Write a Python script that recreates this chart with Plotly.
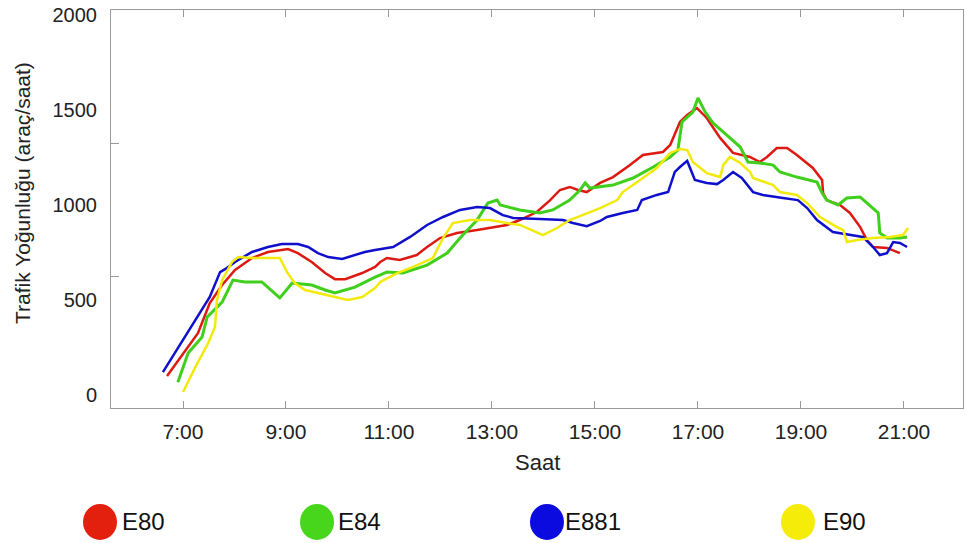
import plotly.graph_objects as go

# Veri (saat, araç/saat)
######################################################################
e80_saat = [6.69, 7.29, 7.52, 7.76, 8.01, 8.34, 8.65, 9.04, 9.23, 9.50, 9.76, 9.95, 10.15, 10.48, 10.73,
            10.83, 10.96, 11.21, 11.54, 11.74, 11.99, 12.32, 12.71, 13.02, 13.29, 13.54, 13.87, 14.13,
            14.32, 14.51, 14.67, 14.84, 15.10, 15.35, 15.68, 15.93, 16.32, 16.46, 16.65, 16.79, 16.98,
            17.17, 17.43, 17.68, 18.01, 18.20, 18.34, 18.53, 18.73, 18.92, 19.23, 19.41, 19.43, 19.50,
            19.76, 19.95, 20.15, 20.28, 20.40, 20.67, 20.92]
e80_deger = [100, 326, 484, 579, 658, 721, 753, 768, 747, 700, 642, 610, 610, 642, 674,
             700, 721, 711, 737, 779, 826, 853, 868, 884, 895, 921, 963, 1026,
             1079, 1095, 1079, 1068, 1116, 1147, 1210, 1263, 1279, 1316, 1437, 1474, 1510,
             1458, 1353, 1274, 1253, 1226, 1253, 1300, 1300, 1263, 1195, 1132, 1063, 1026,
             1000, 958, 884, 816, 779, 774, 747]

e84_saat = [6.90, 7.10, 7.37, 7.47, 7.76, 7.97, 8.20, 8.53, 8.88, 9.12, 9.31, 9.50, 9.76, 9.95, 10.34,
            10.73, 10.96, 11.27, 11.74, 12.13, 12.38, 12.71, 12.92, 13.10, 13.16, 13.54, 13.93, 14.18,
            14.51, 14.71, 14.81, 14.90, 15.35, 15.74, 16.13, 16.46, 16.61, 16.69, 16.90, 17.00, 17.14,
            17.29, 17.56, 17.82, 17.97, 18.20, 18.46, 18.59, 18.92, 19.31, 19.41, 19.50, 19.72, 19.89,
            20.15, 20.40, 20.50, 20.53, 20.67, 20.92, 21.06]
e84_deger = [68, 221, 305, 411, 489, 605, 595, 595, 511, 589, 584, 579, 553, 537, 568,
             621, 647, 642, 684, 747, 826, 921, 1010, 1026, 1000, 974, 958, 974,
             1026, 1079, 1116, 1089, 1105, 1142, 1200, 1253, 1289, 1437, 1489, 1563, 1489,
             1432, 1368, 1305, 1226, 1221, 1210, 1174, 1147, 1121, 1063, 1026, 1000, 1037,
             1042, 984, 958, 853, 826, 826, 832]

e881_saat = [6.61, 7.52, 7.72, 7.85, 8.01, 8.34, 8.65, 8.92, 9.23, 9.43, 9.62, 9.82, 10.09, 10.34, 10.53,
             10.73, 11.08, 11.41, 11.74, 12.05, 12.38, 12.71, 12.96, 13.21, 13.41, 13.93, 14.38, 14.57,
             14.84, 15.10, 15.23, 15.54, 15.82, 15.91, 16.20, 16.42, 16.55, 16.65, 16.79, 16.94, 17.17,
             17.37, 17.49, 17.68, 17.85, 18.07, 18.26, 18.65, 18.94, 19.12, 19.31, 19.62, 19.95, 20.20,
             20.40, 20.53, 20.67, 20.79, 20.92, 21.06]
e881_deger = [121, 516, 647, 668, 700, 753, 779, 795, 795, 779, 747, 726, 716, 737, 753,
              763, 779, 832, 895, 937, 974, 989, 984, 947, 932, 926, 921, 905,
              889, 916, 937, 958, 974, 1026, 1053, 1068, 1174, 1200, 1232, 1132, 1116,
              1110, 1132, 1174, 1142, 1068, 1053, 1037, 1026, 984, 921, 858, 842, 832,
              779, 737, 747, 805, 800, 779]

e90_saat = [7.00, 7.23, 7.49, 7.62, 7.66, 7.76, 7.95, 8.07, 8.34, 8.65, 8.88, 9.02, 9.17, 9.37, 9.82,
            10.20, 10.48, 10.73, 10.83, 11.16, 11.47, 11.85, 12.05, 12.24, 12.57, 12.96, 13.29, 13.54,
            13.99, 14.26, 14.51, 14.84, 15.10, 15.43, 15.54, 15.82, 16.20, 16.46, 16.65, 16.79, 16.90,
            17.17, 17.43, 17.49, 17.62, 17.82, 18.01, 18.07, 18.46, 18.59, 18.92, 19.12, 19.37, 19.70,
            19.82, 19.89, 20.09, 20.40, 20.73, 20.98, 21.08]
e90_deger = [16, 142, 274, 358, 500, 605, 700, 726, 721, 721, 721, 647, 589, 553, 526,
             500, 516, 563, 595, 642, 674, 721, 826, 905, 921, 921, 905, 895,
             842, 879, 921, 958, 984, 1026, 1068, 1121, 1195, 1274, 1295, 1289, 1226,
             1168, 1147, 1210, 1253, 1221, 1174, 1142, 1105, 1068, 1053, 1010, 937, 884,
             868, 805, 816, 826, 832, 842, 879]

seriler = ["E80", "E84", "E881", "E90"]
renkler = ["#dd1a12", "#40cf1c", "#1010cc", "#f2ea0c"]
legend_renk = ["#e3200e", "#47d61c", "#0b0be0", "#f5ec0a"]
kalinlik = [2.5, 3, 2.5, 2.5]

saat_tick = [7, 9, 11, 13, 15, 17, 19, 21]
saat_etiket = ["7:00", "9:00", "11:00", "13:00", "15:00", "17:00", "19:00", "21:00"]
y_tick = [0, 500, 1000, 1500, 2000]

veriler = [(e80_saat, e80_deger), (e84_saat, e84_deger), (e881_saat, e881_deger), (e90_saat, e90_deger)]

fig = go.Figure()
for ad, (xs, ys), renk, w in zip(seriler, veriler, renkler, kalinlik):
    fig.add_trace(go.Scatter(x=xs, y=ys, name=ad, mode='lines', showlegend=False,
                             line=dict(color=renk, width=w)))

eksen_renk = '#9a9a9a'
fig.update_xaxes(range=[5.602, 22.146], tickvals=saat_tick, ticktext=saat_etiket, automargin=False,
                 ticks='inside', ticklen=7, tickcolor=eksen_renk, showgrid=False, zeroline=False,
                 showline=True, linecolor=eksen_renk, linewidth=1, mirror='ticks',
                 tickfont=dict(size=21, color='#222'), ticklabelstandoff=5, ticklabeloverflow='allow')
fig.update_yaxes(range=[-68, 2026], tickvals=y_tick, ticks='', showgrid=False, zeroline=False,
                 showline=True, linecolor=eksen_renk, linewidth=1, mirror=True, automargin=False,
                 tickfont=dict(size=20, color='#222'), ticklabelstandoff=9, ticklabeloverflow='allow',
                 minor=dict(tickvals=[626, 1326], ticks='inside', ticklen=8, tickcolor=eksen_renk))

# Eksen başlıkları
fig.add_annotation(text="Trafik Yoğunluğu (araç/saat)", xref='paper', yref='paper', x=-0.1045, y=0.54,
                   xanchor='center', yanchor='middle',
                   textangle=-90, showarrow=False, font=dict(size=21, color='#222'))
fig.add_annotation(text="Saat", xref='paper', yref='paper', x=0.5, y=-0.138, yanchor='middle',
                   showarrow=False, font=dict(size=22, color='#222'))

# Elle çizilen gösterge (legend)
leg_x = [-0.0129, 0.2418, 0.5117, 0.8063]
leg_tx = [0.0106, 0.2641, 0.5305, 0.8333]
leg_y = -0.2864
for ad, renk, cx, tx in zip(seriler, legend_renk, leg_x, leg_tx):
    fig.add_shape(type='circle', xref='paper', yref='paper', xsizemode='pixel', ysizemode='pixel',
                  xanchor=cx, yanchor=leg_y, x0=-17, x1=17, y0=-18, y1=18,
                  fillcolor=renk, line=dict(color=renk, width=0))
    fig.add_annotation(text=ad, xref='paper', yref='paper', x=tx, y=leg_y, xanchor='left',
                       yanchor='middle', showarrow=False, font=dict(size=24, color='#111'))

fig.update_layout(
    width=966, height=543,
    margin=dict(l=111, r=3, t=10, b=135),
    paper_bgcolor='white', plot_bgcolor='white',
    font=dict(family='Liberation Sans, Arial, sans-serif'),
)
# sayfa gövdesinin varsayılan 8px kenar boşluğunu kaldır
fig.write_html("out.html", config={'displayModeBar': False},
               post_script="document.body.style.margin='0';")
